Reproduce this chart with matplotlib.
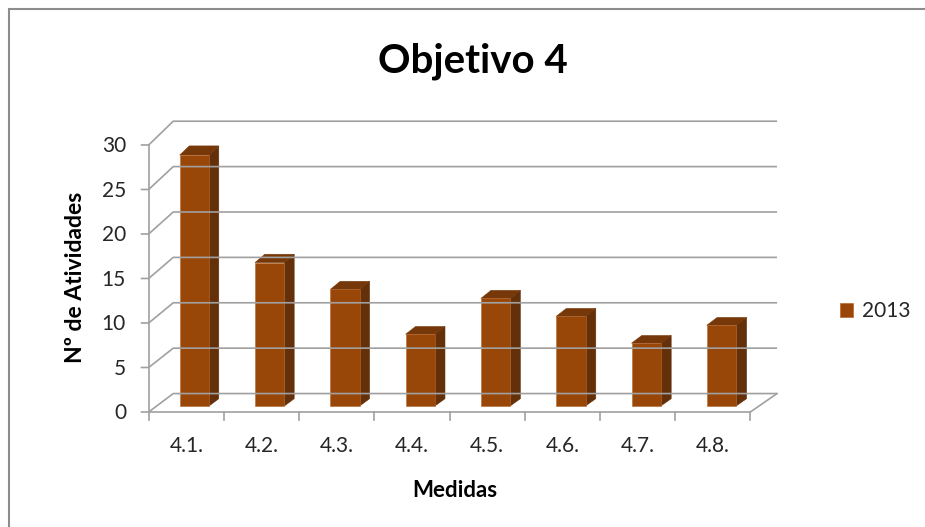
import matplotlib.pyplot as plt
from matplotlib.patches import Polygon, Rectangle

plt.rcParams['font.family'] = ['Lato', 'DejaVu Sans']

categories = ['4.1.', '4.2.', '4.3.', '4.4.', '4.5.', '4.6.', '4.7.', '4.8.']
values_2013 = [28, 16, 13, 8, 12, 10, 7, 9]
y_ticks = [0, 5, 10, 15, 20, 25, 30]
series_name = '2013'
title = 'Objetivo 4'
x_label = 'Medidas'
y_label = 'Nº de Atividades'

FRONT = '#994709'
SIDE = '#64300a'
TOP = '#763808'
EDGE = '#b8682e'
GRID = '#a0a0a0'

W, H = 925, 527

# oblique "3D" look: depth 0 = front plane, depth 1 = back wall
DX, DY = 0.326, 2.07
SX, SY = 0.0037, 0.02


def proj(x, v, d):
    return x * (1 + SX * d) + DX * d, v * (1 + SY * d) + DY * d


def fx(px):
    return px / W


def fy(py):
    return 1 - py / H


fig = plt.figure(figsize=(W / 100, H / 100), dpi=100)
ax = fig.add_axes([0.1081, 0.1841, 0.7568, 0.6262])
ax.set_xlim(-0.648, 8.661)
ax.set_ylim(-2.022, 35.056)
ax.axis('off')

n = len(categories)
top = y_ticks[-1]

# side wall diagonals + back wall gridlines + left ticks
for v in y_ticks:
    x0, y0 = proj(0, v, 0)
    x1, y1 = proj(0, v, 1)
    x2, y2 = proj(n, v, 1)
    ax.plot([x0 - 0.106, x0, x1, x2], [y0, y0, y1, y2], color=GRID, lw=1.2,
            solid_capstyle='butt')

# front axis, floor, bottom ticks
ax.plot([0, 0], [0, top], color=GRID, lw=1.2)
ax.plot([0, n], [0, 0], color=GRID, lw=1.2)
xa, ya = proj(n, 0, 1)
ax.plot([n, xa], [0, ya], color=GRID, lw=1.2)
for i in range(n + 1):
    ax.plot([i, i], [0, -0.9], color=GRID, lw=1.2)

# bars
d0, d1 = 0.33, 0.72
half = 0.195
for i, v in enumerate(values_2013):
    xl, xr = i + 0.5 - half, i + 0.5 + half
    front = [proj(xl, 0, d0), proj(xr, 0, d0), proj(xr, v, d0), proj(xl, v, d0)]
    side = [proj(xr, 0, d0), proj(xr, 0, d1), proj(xr, v, d1), proj(xr, v, d0)]
    lid = [proj(xl, v, d0), proj(xr, v, d0), proj(xr, v, d1), proj(xl, v, d1)]
    ax.add_patch(Polygon(side, closed=True, fc=SIDE, ec=SIDE, lw=0.4))
    ax.add_patch(Polygon(lid, closed=True, fc=TOP, ec=TOP, lw=0.4))
    ax.add_patch(Polygon(front, closed=True, fc=FRONT, ec=EDGE, lw=0.4))

# tick labels
for v in y_ticks:
    ax.text(-0.302, v - 0.84, str(v), ha='right', va='baseline',
            fontsize=15, color='#262626')
for i, c in enumerate(categories):
    ax.text(i + 0.5, -4.5, c, ha='center', va='baseline',
            fontsize=15, color='#262626')

# titles
fig.text(fx(473), fy(72), title, ha='center', va='baseline',
         fontsize=29, fontweight='bold', color='black')
fig.text(fx(455), fy(497), x_label, ha='center', va='baseline',
         fontsize=16, fontweight='bold', color='black')
fig.text(fx(76), fy(277), y_label, ha='center', va='center', rotation=90,
         fontsize=16.5, fontweight='bold', color='black')

# legend
fig.add_artist(Rectangle((fx(840), fy(317)), 13 / W, 14 / H,
                         transform=fig.transFigure, fc=FRONT, ec=EDGE, lw=0.5))
fig.text(fx(862), fy(317), series_name, ha='left', va='baseline',
         fontsize=15, color='#262626')

# chart area border
fig.add_artist(Rectangle((fx(9), -0.1), 2, fy(9) + 0.1,
                         transform=fig.transFigure, fill=False,
                         ec='#8c8c8c', lw=1.5))

fig.savefig('out.png', dpi=100)
